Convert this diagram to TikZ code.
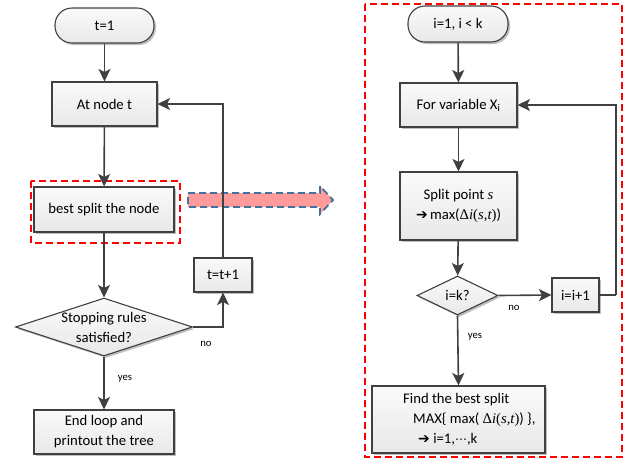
\documentclass[tikz,border=0pt]{standalone}
\usepackage{fontspec}
\setmainfont{Carlito}
\newfontfamily\serifmath{Liberation Serif}
\newfontfamily\symfont{DejaVu Sans}
\usetikzlibrary{arrows.meta,shapes.geometric,shadows}

\definecolor{edge}{HTML}{404040}
\definecolor{frame}{HTML}{FF0000}
\definecolor{pinkfill}{HTML}{FF9B9B}
\definecolor{bluedash}{HTML}{41719C}

% italic serif letters for the formulas
\newcommand{\mvar}[1]{{\serifmath\itshape #1}}
\newcommand{\gain}{{\serifmath Δ\itshape i\upshape(\itshape s\upshape,\itshape t\upshape)}}
\newcommand{\harr}{{\symfont\fontsize{14}{14}\selectfont ➔}}
\newcommand{\cdotsglyph}{{\symfont\fontsize{12}{12}\selectfont ⋯}}

\tikzset{
  base/.style={draw=edge, line width=1.1pt, inner sep=0pt, align=center,
    top color=black!2, bottom color=black!9,
    drop shadow={shadow xshift=2pt, shadow yshift=-2pt, opacity=0.25, fill=black},
    font=\fontsize{14.7}{20}\selectfont},
  procbox/.style={base, rectangle},
  termbox/.style={base, rectangle, rounded corners=17pt},
  decision/.style={base, diamond},
  txt/.style={inner sep=0pt, align=center, font=\fontsize{14.7}{20}\selectfont},
  small/.style={inner sep=0pt, font=\fontsize{10.7}{12}\selectfont},
  arr/.style={draw=edge, line width=1.6pt, -{Stealth[length=12.5pt,width=12pt,inset=3pt]}},
  link/.style={draw=edge, line width=1.6pt},
  groupframe/.style={draw=frame, line width=2pt, dash pattern=on 7pt off 4pt},
}

\begin{document}
\begin{tikzpicture}[x=1pt, y=-1pt]
\useasboundingbox (0,0) rectangle (630,459);

% ---------------- outer loop over nodes ----------------
\node[termbox, minimum width=99pt, minimum height=35pt] (start) at (104.5,25.5) {t=1};
\node[procbox, minimum width=105pt, minimum height=44pt] (atnode) at (104.5,104) {At node t};
\node[procbox, minimum width=140pt, minimum height=45pt] (best) at (104,209.5) {best split the node};
\node[decision, minimum width=177pt, minimum height=58pt] (stop) at (104,327) {};
\node[txt] (stoptxt) at (stop.center) {Stopping rules\\satisfied?};
\node[procbox, minimum width=58pt, minimum height=34pt] (tinc) at (223,275) {t=t+1};
\node[procbox, minimum width=140pt, minimum height=44pt] (endbox) at (104,432) {End loop and\\printout the tree};

\coordinate (g1a) at (31,181);
\coordinate (g1b) at (180,243);
\draw[groupframe] (g1a) rectangle (g1b);

% wide arrow pointing to the detailed split procedure
\draw[fill=pinkfill, draw=bluedash, line width=1.8pt, dash pattern=on 7pt off 4pt]
  (188,193) -- (320,193) -- (320,186) -- (333,200) -- (320,214) -- (320,207) -- (188,207) -- cycle;

\draw[arr] (start) -- (atnode);
\draw[arr] (atnode) -- (best);
\draw[arr] (best) -- (stop);
\draw[arr] (stop.east) -| (tinc.south);
\draw[arr] (tinc.north) |- (atnode.east);
\draw[arr] (stop.south) -- (endbox.north);
\node[small] (lno1) at (206,344) {no};
\node[small] (lyes1) at (125,379) {yes};

% ---------------- inner loop over variables ----------------
\coordinate (g2a) at (365,4);
\coordinate (g2b) at (622,457);
\draw[groupframe] (g2a) rectangle (g2b);

\node[termbox, minimum width=100pt, minimum height=36pt] (istart) at (458,24) {i=1, i {<} k};
\node[procbox, minimum width=117pt, minimum height=44pt] (forvar) at (458.5,105) {For variable X\textsubscript{i}};
\node[procbox, minimum width=117pt, minimum height=68pt] (splitpt) at (458.5,206)
  {Split point \mvar{s}\\\harr\,max(\gain)};
\node[decision, minimum width=81pt, minimum height=39pt] (ik) at (457.5,295.5) {};
\node[txt] (iktxt) at (ik.center) {i=k?};
\node[procbox, minimum width=47pt, minimum height=34pt] (iinc) at (575.5,295) {i=i+1};
\node[procbox, minimum width=173pt, minimum height=67pt] (find) at (458.5,419.5) {};
\node[txt, align=left, anchor=west] (findtxt) at (403,419.5)
  {Find the best split\\
   \hspace*{10pt}MAX\{ max( \gain) \},\\
   \hspace*{15pt}\harr\ i=1,\cdotsglyph,k};

\coordinate (loopR) at (616,295);
\draw[arr] (istart) -- (forvar);
\draw[arr] (forvar) -- (splitpt);
\draw[arr] (splitpt) -- (ik);
\draw[arr] (ik.east) -- (iinc.west);
\draw[link] (iinc.east) -- (loopR);
\draw[arr] (loopR) |- (forvar.east);
\draw[arr] (ik.south) -- (find.north);
\node[small] (lno2) at (514,308) {no};
\node[small] (lyes2) at (475,337) {yes};
\end{tikzpicture}
\end{document}
